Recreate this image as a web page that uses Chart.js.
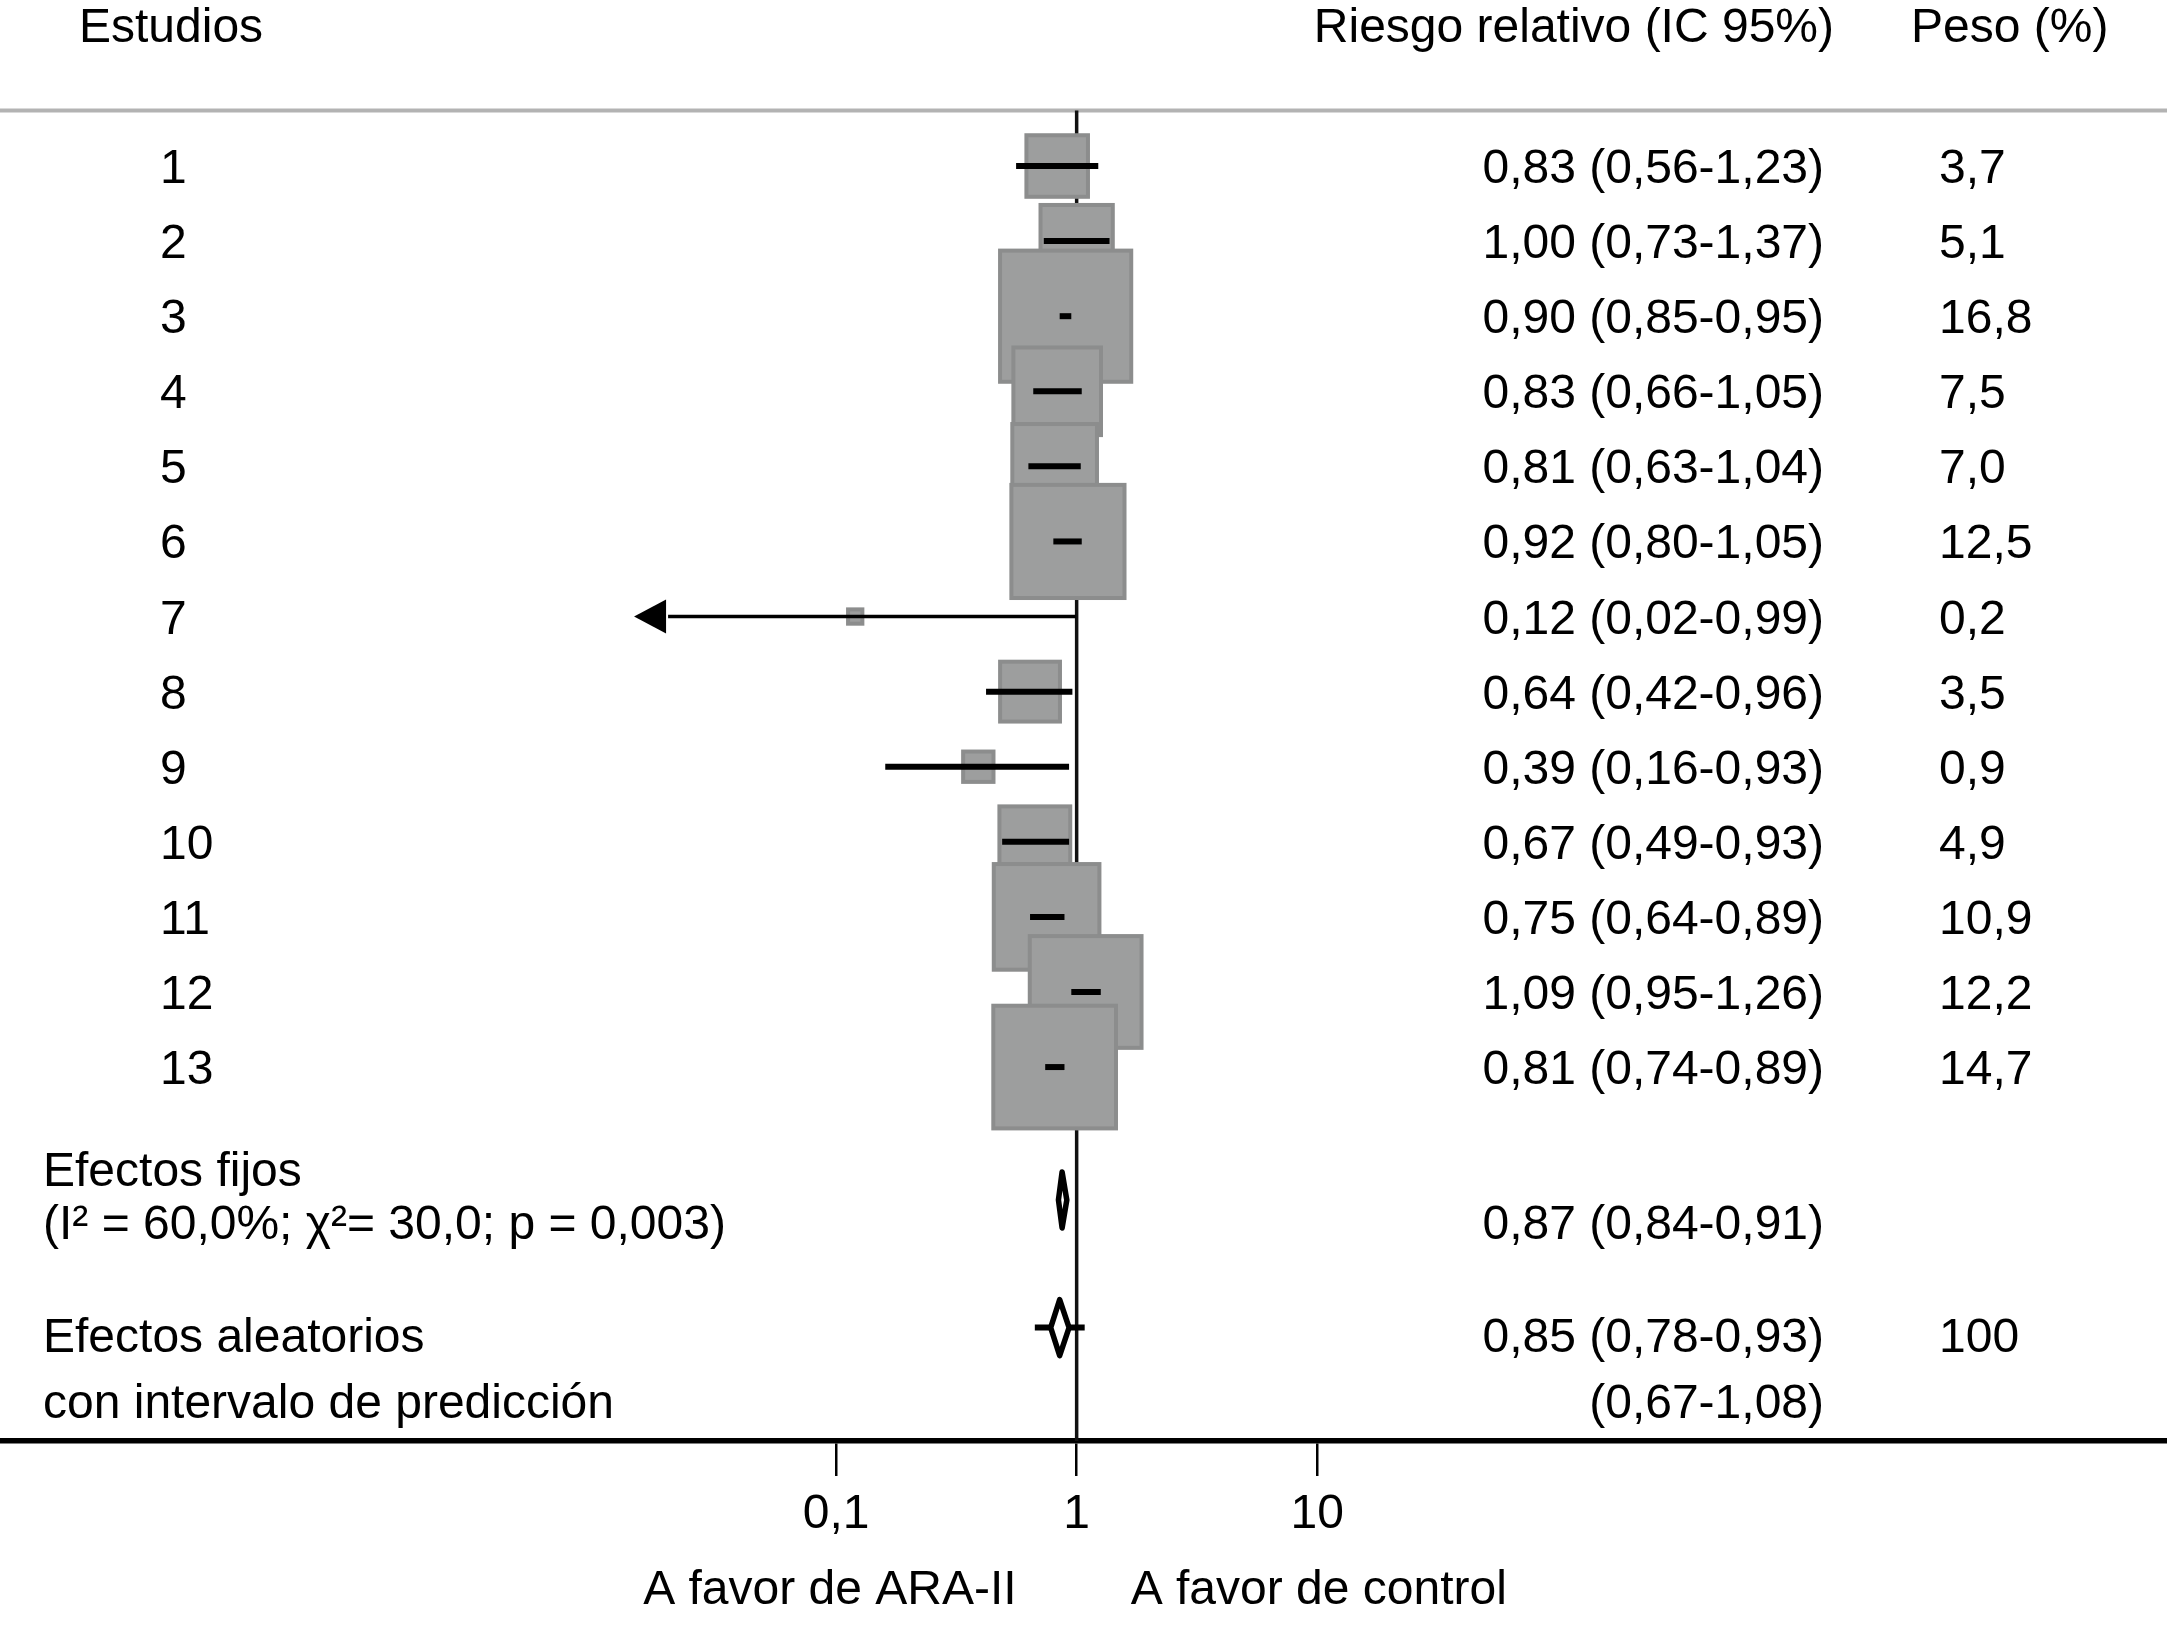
<!DOCTYPE html>
<html>
<head>
<meta charset="utf-8">
<script src="https://cdn.jsdelivr.net/npm/chart.js@4.4.1/dist/chart.umd.min.js"></script>
<style>
  html, body { margin: 0; padding: 0; background: #fff; }
  #wrap { width: 2167px; height: 1626px; position: relative; }
</style>
</head>
<body>
<div id="wrap"><canvas id="forest"></canvas></div>
<script>
// datos del metaanálisis
const studies = ['1', '2', '3', '4', '5', '6', '7', '8', '9', '10', '11', '12', '13']
const rr = [0.83, 1.00, 0.90, 0.83, 0.81, 0.92, 0.12, 0.64, 0.39, 0.67, 0.75, 1.09, 0.81]
const lower = [0.56, 0.73, 0.85, 0.66, 0.63, 0.80, 0.02, 0.42, 0.16, 0.49, 0.64, 0.95, 0.74]
const upper = [1.23, 1.37, 0.95, 1.05, 1.04, 1.05, 0.99, 0.96, 0.93, 0.93, 0.89, 1.26, 0.89]
const weights = [3.7, 5.1, 16.8, 7.5, 7.0, 12.5, 0.2, 3.5, 0.9, 4.9, 10.9, 12.2, 14.7]

const fixedEffect = [0.87, 0.84, 0.91]    // RR, IC inf, IC sup
const randomEffect = [0.85, 0.78, 0.93]
const predInterval = [0.67, 1.08]
const randomWeight = '100'
const heterogeneity = '(I² = 60,0%; χ²= 30,0; p = 0,003)'

const xTicks = [0.1, 1, 10]
const xTickLabels = ['0,1', '1', '10']

const FONT = '"Liberation Sans", Arial, Helvetica, sans-serif'
const fmt = (v, d) => v.toFixed(d).replace('.', ',')

// posiciones de filas en el eje y (filas de estudios = 1..13)
const rowY = {
  header: -0.83,
  fixedLabel1: 14.41, fixedLabel2: 15.11, fixedDiamond: 14.77,
  randomLabel1: 16.62, randomLabel2: 17.50, randomDiamond: 16.47
}
const col = {
  header: 79, study: 160, summary: 43,
  estRight: 1824, weightLeft: 1939,
  riesgoRight: 1834, pesoLeft: 1911
}

const forestPlugin = {
  id: 'forest',
  beforeDatasetsDraw(chart) {
    const { ctx, chartArea, scales: { x } } = chart
    ctx.save()
    // línea superior gris
    ctx.strokeStyle = '#b3b3b3'
    ctx.lineWidth = 4
    ctx.beginPath()
    ctx.moveTo(0, chartArea.top)
    ctx.lineTo(chart.width, chartArea.top)
    ctx.stroke()
    // línea de no efecto
    const x1 = x.getPixelForValue(1)
    ctx.strokeStyle = '#111'
    ctx.lineWidth = 3.5
    ctx.beginPath()
    ctx.moveTo(x1, chartArea.top)
    ctx.lineTo(x1, chartArea.bottom)
    ctx.stroke()
    ctx.restore()
  },
  afterDatasetsDraw(chart) {
    const { ctx, scales: { x, y } } = chart
    ctx.save()
    // cuadrados con área proporcional al peso
    studies.forEach((s, i) => {
      const px = x.getPixelForValue(rr[i])
      const py = y.getPixelForValue(i + 1)
      const side = 32 * Math.sqrt(weights[i])
      ctx.fillStyle = '#9d9e9e'
      ctx.fillRect(px - side / 2, py - side / 2, side, side)
      ctx.strokeStyle = '#8c8d8d'
      ctx.lineWidth = 4
      ctx.strokeRect(px - side / 2, py - side / 2, side, side)
    })

    ctx.strokeStyle = '#000'
    ctx.fillStyle = '#000'
    studies.forEach((s, i) => {
      const py = y.getPixelForValue(i + 1)
      const xl = x.getPixelForValue(lower[i])
      const xh = x.getPixelForValue(upper[i])
      const arrow = lower[i] < 0.03
      ctx.lineWidth = arrow ? 3.5 : 6
      ctx.beginPath()
      ctx.moveTo(xl, py)
      ctx.lineTo(xh, py)
      ctx.stroke()
      if (arrow) {
        ctx.beginPath()
        ctx.moveTo(xl - 34, py)
        ctx.lineTo(xl - 2, py - 17)
        ctx.lineTo(xl - 2, py + 17)
        ctx.closePath()
        ctx.fill()
      }
    })

    const diamond = (vals, yv) => {
      const py = y.getPixelForValue(yv)
      const xe = x.getPixelForValue(vals[0])
      const xl = x.getPixelForValue(vals[1])
      const xh = x.getPixelForValue(vals[2])
      const h = 28
      ctx.beginPath()
      ctx.moveTo(xl, py)
      ctx.lineTo(xe, py - h)
      ctx.lineTo(xh, py)
      ctx.lineTo(xe, py + h)
      ctx.closePath()
      ctx.fillStyle = '#fff'
      ctx.fill()
      ctx.lineWidth = 5.5
      ctx.lineJoin = 'round'
      ctx.strokeStyle = '#000'
      ctx.stroke()
    }
    diamond(fixedEffect, rowY.fixedDiamond)

    // intervalo de predicción
    const pr = y.getPixelForValue(rowY.randomDiamond)
    ctx.lineWidth = 6
    ctx.beginPath()
    ctx.moveTo(x.getPixelForValue(predInterval[0]), pr)
    ctx.lineTo(x.getPixelForValue(predInterval[1]), pr)
    ctx.stroke()
    diamond(randomEffect, rowY.randomDiamond)
    ctx.restore()
  },
  afterDraw(chart) {
    const { ctx, chartArea, scales: { x, y } } = chart
    ctx.save()
    ctx.fillStyle = '#000'
    ctx.textBaseline = 'middle'
    const text = (t, px, yv, align) => {
      ctx.textAlign = align
      ctx.fillText(t, px, y.getPixelForValue(yv))
    }
    ctx.font = '48px ' + FONT
    text('Estudios', col.header, rowY.header, 'left')
    text('Riesgo relativo (IC 95%)', col.riesgoRight, rowY.header, 'right')
    text('Peso (%)', col.pesoLeft, rowY.header, 'left')

    studies.forEach((s, i) => {
      text(s, col.study, i + 1.05, 'left')
      text(fmt(rr[i], 2) + ' (' + fmt(lower[i], 2) + '-' + fmt(upper[i], 2) + ')', col.estRight, i + 1.05, 'right')
      text(fmt(weights[i], 1), col.weightLeft, i + 1.05, 'left')
    })

    text('Efectos fijos', col.summary, rowY.fixedLabel1, 'left')
    text(heterogeneity, col.summary, rowY.fixedLabel2, 'left')
    text(fmt(fixedEffect[0], 2) + ' (' + fmt(fixedEffect[1], 2) + '-' + fmt(fixedEffect[2], 2) + ')', col.estRight, rowY.fixedLabel2, 'right')

    text('Efectos aleatorios', col.summary, rowY.randomLabel1, 'left')
    text('con intervalo de predicción', col.summary, rowY.randomLabel2, 'left')
    text(fmt(randomEffect[0], 2) + ' (' + fmt(randomEffect[1], 2) + '-' + fmt(randomEffect[2], 2) + ')', col.estRight, rowY.randomLabel1, 'right')
    text(randomWeight, col.weightLeft, rowY.randomLabel1, 'left')
    text('(' + fmt(predInterval[0], 2) + '-' + fmt(predInterval[1], 2) + ')', col.estRight, rowY.randomLabel2, 'right')

    const x1 = x.getPixelForValue(1)
    const yf = chartArea.bottom + 150
    ctx.textAlign = 'right'
    ctx.fillText('A favor de ARA-II', x1 - 60, yf)
    ctx.textAlign = 'left'
    ctx.fillText('A favor de control', x1 + 54, yf)
    ctx.restore()
  }
}

new Chart(document.getElementById('forest'), {
  type: 'scatter',
  data: {
    datasets: [{
      data: rr.map((v, i) => ({ x: v, y: i + 1 })),
      pointRadius: 0,
      pointHoverRadius: 0
    }]
  },
  options: {
    responsive: true,
    maintainAspectRatio: false,
    devicePixelRatio: 1,
    animation: false,
    events: [],
    layout: { padding: { top: 110.6, left: 0, right: 0, bottom: 0 } },
    plugins: { legend: { display: false }, tooltip: { enabled: false } },
    scales: {
      x: {
        type: 'logarithmic',
        min: 3.334e-5,
        max: 34198,
        border: { display: true, color: '#000', width: 5.5 },
        grid: { drawOnChartArea: false, drawTicks: true, tickLength: 35, color: '#000', lineWidth: 2.5 },
        ticks: {
          autoSkip: false,
          maxRotation: 0,
          padding: 10,
          color: '#000',
          font: { size: 48, family: FONT },
          callback: v => xTickLabels[xTicks.indexOf(v)] ?? ''
        },
        afterBuildTicks: s => { s.ticks = xTicks.map(v => ({ value: v })) },
        afterFit: s => {
          s.height = 185
          s.paddingLeft = 0
          s.paddingRight = 0
        }
      },
      y: {
        type: 'linear',
        min: 0.262,
        max: 17.98,
        reverse: true,
        display: false
      }
    }
  },
  plugins: [forestPlugin]
})
</script>
</body>
</html>
